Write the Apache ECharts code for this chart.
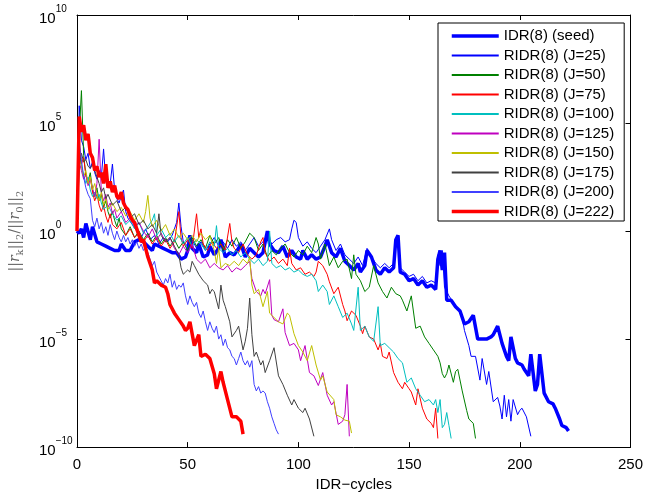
<!DOCTYPE html>
<html><head><meta charset="utf-8">
<script src="https://cdn.jsdelivr.net/npm/echarts@6/dist/echarts.min.js"></script>
<style>html,body{margin:0;padding:0;background:#fff}#c{width:646px;height:497px}</style>
</head><body><div id="c"></div>
<script>
// x: IDR cycle, values: log10 of relative residual norm
const xTicks = [0, 50, 100, 150, 200, 250];
const yTickExponents = [-10, -5, 0, 5, 10];
const seriesNames = ['IDR(8) (seed)', 'RIDR(8) (J=25)', 'RIDR(8) (J=50)', 'RIDR(8) (J=75)', 'RIDR(8) (J=100)',
  'RIDR(8) (J=125)', 'RIDR(8) (J=150)', 'RIDR(8) (J=175)', 'RIDR(8) (J=200)', 'RIDR(8) (J=222)'];

const seedIDR = [[0,0],[1,-0.1],[2,0.1],[3,-0.3],[4,0.35],[6,-0.4],[7,0.2],[9,-0.5],[11,-0.6],[13,-0.7],[15,-0.8],[17,-0.9],[19,-0.9],[20,-0.6],[22,-0.9],[24,-0.9],[26,-0.5],[28,-0.4],[30,-0.5],[32,-0.7],[34,-0.9],[35,-0.6],[37,-0.7],[39,-0.8],[41,-0.9],[43,-1.0],[45,-1.0],[47,-1.3],[49,-1.2],[50,-0.9],[51,-0.2],[52,-0.8],[54,-1.0],[55,-0.6],[57,-1.2],[59,-1.1],[60,-0.7],[62,-1.1],[64,-0.8],[65,-0.4],[67,-1.2],[69,-1.0],[71,-1.1],[73,-0.8],[74,-0.6],[76,-1.2],[78,-0.8],[80,-1.0],[82,-1.2],[84,-1.0],[85,-0.5],[86,0.0],[87,-0.6],[89,-0.9],[91,-1.0],[93,-0.7],[95,-1.2],[97,-0.9],[99,-1.2],[101,-1.3],[102,-0.9],[104,-1.3],[106,-1.1],[108,-1.3],[110,-1.2],[112,-0.7],[113,-0.4],[115,-1.0],[117,-1.2],[119,-0.8],[121,-1.4],[123,-1.6],[125,-1.8],[127,-1.5],[128,-1.9],[130,-1.6],[131,-0.9],[133,-1.2],[135,-1.8],[137,-2.0],[139,-1.7],[141,-1.9],[143,-1.7],[144,-0.4],[145,-0.2],[146,-1.9],[148,-2.0],[150,-2.3],[152,-2.2],[154,-2.5],[156,-2.3],[158,-2.6],[160,-2.5],[162,-2.7],[163,-1.3],[164,-0.9],[165,-1.8],[166,-1.0],[167,-3.2],[169,-3.2],[171,-3.5],[173,-3.7],[175,-4.3],[177,-4.2],[179,-3.9],[181,-5.0],[183,-5.0],[185,-5.0],[187,-4.9],[188,-4.8],[190,-4.4],[192,-5.2],[194,-5.8],[195,-6.0],[196,-4.9],[198,-5.9],[199,-6.1],[201,-6.2],[202,-6.4],[204,-6.7],[205,-5.7],[207,-7.4],[208,-7.1],[209,-5.7],[211,-7.5],[213,-7.9],[215,-8.0],[216,-8.2],[218,-8.7],[219,-9.0],[221,-9.1],[222,-9.25]];

const ridrJ25 = [[0,0],[1,5.8],[2,4.2],[3,3.9],[4,3.3],[5,3.6],[6,2.9],[7,3.2],[8,2.7],[9,2.4],[10,2.8],[11,2.5],[12,3.8],[13,2.3],[14,2.0],[15,2.2],[16,3.1],[17,1.9],[18,1.5],[19,1.3],[20,1.6],[21,1.9],[22,0.9],[23,0.6],[25,0.3],[27,0.0],[29,-0.3],[31,0.1],[33,-0.4],[35,-0.2],[37,-0.6],[39,-0.3],[41,-0.5],[43,-0.2],[45,0.4],[46,1.3],[47,0.2],[48,-0.5],[50,-0.7],[52,-0.4],[54,-0.8],[56,-0.5],[58,-0.9],[60,-0.6],[62,-0.3],[64,-0.7],[66,-0.5],[68,-0.8],[70,-0.4],[72,-0.7],[74,-0.5],[76,-0.9],[78,-0.6],[80,-0.3],[82,-0.7],[84,-0.5],[86,-0.2],[88,-0.6],[90,-0.4],[92,-0.3],[94,-0.5],[96,-0.4],[97,0.1],[98,0.5],[99,0.4],[100,-0.3],[102,-0.7],[104,-0.5],[106,-0.8],[108,-1.0],[110,-0.7],[112,-0.4],[114,0.1],[115,-0.4],[117,-0.9],[119,-0.6],[121,-1.1],[123,-1.3],[125,-1.5],[127,-1.2],[129,-1.6],[131,-0.8],[133,-1.2],[135,-1.5],[137,-1.7],[139,-1.5],[141,-1.7],[143,-1.5],[144,-0.6],[145,-0.4],[146,-1.7],[148,-1.9],[150,-2.1],[152,-2.0],[154,-2.3],[156,-2.1],[158,-2.4],[160,-2.3],[162,-2.4],[163,-1.1],[164,-1.6],[165,-0.9],[166,-2.6],[168,-3.0],[170,-3.3],[172,-3.6],[174,-4.0],[175,-4.6],[177,-5.3],[178,-5.8],[180,-5.8],[182,-6.9],[183,-5.9],[185,-7.1],[186,-6.5],[188,-7.9],[190,-7.7],[191,-8.1],[192,-8.7],[193,-7.6],[194,-8.6],[195,-7.8],[196,-8.8],[197,-7.8],[199,-8.5],[200,-8.3],[201,-8.2],[203,-8.6],[205,-9.5]];

const ridrJ50 = [[0,0],[1,4.5],[2,6.5],[3,3.5],[4,2.6],[5,2.3],[6,2.7],[7,1.9],[8,1.6],[9,2.0],[10,1.4],[11,1.7],[12,1.1],[13,1.4],[14,0.9],[15,0.6],[16,0.9],[17,0.5],[18,0.2],[19,0.6],[20,0.1],[22,-0.2],[24,0.2],[26,-0.3],[28,0.0],[30,-0.4],[32,-0.1],[34,-0.5],[36,-0.2],[38,-0.6],[40,-0.3],[42,-0.7],[44,-0.4],[46,-0.8],[48,-0.5],[50,-0.9],[52,-0.3],[54,-0.7],[56,-0.4],[58,-0.8],[60,-0.2],[62,-0.6],[64,-0.3],[66,-0.9],[68,-0.4],[70,-0.7],[72,-0.3],[74,-0.8],[76,-0.5],[78,-0.1],[80,-0.3],[82,-0.9],[84,-0.6],[86,-1.2],[88,-0.9],[90,-1.1],[92,-0.8],[94,-0.6],[96,-1.0],[98,-1.2],[100,-0.9],[102,-1.1],[104,-0.7],[106,-1.0],[108,-0.3],[109,-0.6],[110,-1.3],[112,-0.6],[114,-1.6],[116,-1.2],[118,-1.7],[120,-1.4],[122,-1.3],[124,-2.2],[125,-1.1],[126,-2.0],[128,-2.3],[130,-2.8],[132,-2.6],[134,-1.6],[136,-2.4],[138,-2.8],[140,-3.1],[142,-2.6],[144,-2.9],[146,-3.0],[147,-3.2],[149,-3.7],[151,-3.0],[153,-4.5],[155,-4.4],[157,-4.9],[159,-5.2],[161,-5.5],[163,-5.8],[164,-6.1],[165,-6.6],[166,-6.8],[167,-6.6],[168,-6.2],[170,-7.0],[171,-6.5],[172,-6.4],[174,-7.4],[176,-8.3],[177,-8.7],[179,-8.9],[180,-9.6]];

const ridrJ75 = [[0,0],[1,4.0],[2,3.1],[3,3.4],[4,2.6],[5,2.2],[6,2.5],[7,1.8],[8,1.4],[9,1.7],[10,1.2],[11,0.9],[12,1.2],[13,0.7],[14,0.4],[15,0.8],[16,0.3],[18,0.1],[20,0.4],[22,-0.2],[24,0.1],[26,-0.3],[28,-0.1],[30,-0.5],[32,-0.2],[34,-0.6],[36,-0.3],[38,-0.7],[40,-0.4],[42,-0.8],[44,-0.5],[46,0.9],[47,-0.3],[48,-0.7],[50,-0.4],[52,-0.8],[54,0.8],[55,-0.3],[56,0.1],[57,-0.6],[59,-0.9],[61,-0.5],[63,-0.8],[65,-0.6],[67,-0.9],[69,0.35],[70,-0.5],[71,-0.8],[73,-1.0],[75,-0.6],[77,-1.1],[79,-1.3],[81,-1.1],[83,-0.5],[84,-0.3],[85,-1.0],[87,-1.4],[89,-1.2],[91,-1.5],[93,-1.3],[95,-1.6],[96,-0.8],[97,-1.5],[99,-1.8],[101,-1.7],[103,-2.0],[105,-1.9],[107,-2.1],[108,-1.9],[109,-1.4],[111,-1.6],[113,-2.0],[114,-2.35],[116,-2.9],[118,-2.6],[120,-3.4],[121,-3.7],[122,-4.15],[124,-3.7],[126,-3.9],[128,-4.4],[129,-4.75],[130,-4.4],[132,-4.9],[134,-5.0],[136,-5.5],[137,-5.2],[138,-5.8],[140,-5.9],[141,-5.6],[143,-6.55],[145,-7.0],[147,-7.3],[148,-7.0],[150,-7.3],[151,-7.45],[153,-8.05],[154,-7.3],[156,-8.2],[158,-8.7],[160,-8.9],[161,-9.1],[162,-8.2],[163,-9.6]];

const ridrJ100 = [[0,0],[1,3.6],[2,3.0],[3,2.6],[4,2.2],[5,2.5],[6,1.9],[7,1.6],[8,1.8],[9,1.5],[10,1.7],[11,1.3],[12,1.0],[14,1.2],[16,0.8],[18,0.5],[20,0.7],[22,0.3],[24,0.5],[26,0.1],[28,0.4],[30,-0.1],[32,0.2],[34,0.5],[35,0.8],[36,-0.2],[38,0.1],[40,-0.3],[42,-0.1],[44,-0.5],[46,-0.2],[48,-0.6],[50,-0.3],[52,-0.7],[54,-0.4],[56,-0.6],[58,-0.9],[60,-0.5],[62,-0.7],[63,0.25],[64,-0.8],[66,-1.0],[68,-0.8],[70,-1.1],[72,-0.9],[74,-1.2],[76,-1.0],[78,-1.3],[80,-1.5],[82,-1.3],[84,-1.6],[86,-1.4],[87,0.0],[88,-1.5],[90,-1.7],[92,-1.6],[94,-1.8],[96,-1.7],[98,-1.9],[100,-1.8],[102,-2.0],[104,-2.1],[106,-2.0],[108,-2.3],[109,-2.8],[111,-2.5],[113,-2.8],[114,-3.4],[116,-3.0],[118,-3.5],[120,-4.0],[122,-3.8],[124,-4.3],[125,-4.6],[127,-2.6],[128,-4.6],[130,-4.4],[132,-4.9],[134,-5.1],[136,-3.5],[137,-5.3],[139,-5.2],[141,-5.4],[143,-5.6],[145,-5.9],[147,-6.1],[149,-7.0],[151,-6.8],[153,-7.3],[155,-7.6],[157,-7.9],[159,-7.8],[161,-8.05],[162,-7.8],[163,-8.4],[164,-7.8],[165,-9.1],[166,-8.95],[167,-8.4],[168,-9.0],[169,-9.6]];

const ridrJ125 = [[0,0],[1,3.2],[2,2.8],[3,2.4],[4,2.6],[5,2.1],[6,2.4],[7,2.0],[8,1.6],[9,2.2],[10,4.25],[11,1.8],[12,1.4],[13,1.7],[14,1.1],[15,1.3],[16,0.8],[17,1.0],[18,0.6],[20,0.9],[22,0.4],[24,0.6],[26,0.2],[28,0.4],[30,0.0],[32,-0.3],[34,0.1],[36,-0.4],[38,-0.1],[40,-0.5],[42,-0.3],[44,-0.8],[46,-1.1],[48,-0.7],[50,-1.0],[52,-0.6],[54,-1.3],[56,-1.5],[58,-1.3],[60,-1.7],[62,-1.5],[64,-1.7],[66,-1.8],[68,-1.6],[70,-1.9],[72,-1.7],[74,-1.8],[76,-1.6],[78,-1.4],[79,-2.2],[81,-2.8],[83,-3.0],[84,-2.7],[85,-2.9],[87,-2.25],[88,-3.9],[89,-4.1],[91,-4.2],[93,-3.6],[94,-4.7],[96,-5.3],[98,-5.2],[100,-5.5],[101,-6.0],[103,-5.3],[105,-6.55],[107,-6.7],[109,-7.15],[111,-6.55],[113,-7.6],[115,-8.05],[116,-7.9],[118,-8.95],[120,-8.8],[121,-8.5],[122,-7.1],[123,-9.5]];

const ridrJ150 = [[0,0],[1,3.4],[2,3.0],[3,2.5],[4,2.8],[5,2.2],[6,2.5],[7,1.9],[8,2.2],[9,1.7],[10,1.4],[11,1.8],[12,1.2],[13,1.5],[14,1.0],[16,1.3],[18,0.9],[20,1.1],[22,0.7],[24,0.9],[26,0.5],[28,0.8],[30,0.4],[31,0.9],[32,1.65],[33,0.6],[34,0.2],[36,0.5],[38,0.0],[40,0.3],[42,-0.2],[44,0.1],[46,-0.3],[48,-0.1],[50,-0.4],[52,-0.2],[54,-0.5],[56,-0.1],[58,-0.4],[60,-0.2],[62,-0.9],[63,-1.5],[64,-0.8],[65,-1.7],[67,-1.5],[69,-1.6],[71,-1.4],[73,-1.6],[75,-1.3],[77,-1.5],[78,-1.2],[79,-2.5],[80,-2.9],[82,-2.7],[84,-3.5],[86,-2.8],[87,-3.8],[89,-4.0],[91,-4.2],[93,-4.3],[95,-3.8],[96,-3.9],[98,-4.75],[100,-5.3],[102,-5.6],[104,-6.0],[106,-5.3],[108,-6.2],[110,-6.9],[111,-6.7],[113,-7.45],[116,-7.8],[117,-8.5],[119,-8.6],[121,-8.75],[123,-8.8],[124,-9.35]];

const ridrJ175 = [[0,0],[1,3.0],[2,3.6],[3,3.2],[4,3.3],[5,3.0],[6,2.9],[7,3.1],[8,2.8],[9,2.5],[10,2.2],[11,1.8],[12,2.0],[13,1.5],[14,1.7],[16,1.2],[18,1.4],[20,0.9],[22,1.1],[24,0.6],[26,0.8],[28,0.3],[30,0.5],[32,0.1],[34,0.3],[36,-0.1],[37,0.8],[38,-0.2],[40,-0.5],[42,-0.3],[44,-0.7],[46,-1.1],[47,-1.7],[48,-2.0],[49,-1.9],[50,-1.8],[51,-1.9],[52,-1.4],[53,-1.6],[54,-1.8],[55,-2.0],[57,-2.3],[59,-2.5],[60,-2.9],[61,-2.7],[62,-2.8],[64,-3.6],[65,-2.5],[66,-3.2],[67,-3.5],[69,-4.2],[70,-4.9],[72,-4.6],[73,-4.4],[75,-5.5],[76,-5.1],[77,-4.5],[78,-3.1],[79,-4.8],[80,-5.8],[81,-5.6],[82,-5.9],[83,-6.2],[84,-6.0],[85,-6.55],[87,-6.0],[89,-5.4],[91,-6.7],[93,-7.1],[95,-7.6],[97,-8.05],[98,-7.8],[100,-8.2],[102,-8.4],[103,-8.2],[105,-8.7],[107,-9.5]];

const ridrJ200 = [[0,0],[1,4.2],[2,3.3],[3,2.5],[4,2.0],[5,1.7],[6,1.5],[7,0.5],[8,0.2],[9,0.6],[10,0.1],[11,0.4],[12,-0.1],[13,0.2],[14,-0.2],[15,0.3],[16,-0.1],[17,-0.4],[18,0.0],[19,-0.3],[20,-0.5],[21,-0.2],[22,-0.5],[23,-0.3],[24,-0.6],[25,-0.4],[26,-0.7],[27,-0.5],[28,-0.8],[29,-0.6],[30,-0.9],[31,-0.7],[32,-1.0],[33,-1.3],[34,-1.6],[35,-1.4],[36,-1.9],[37,-2.1],[38,-2.3],[39,-2.5],[40,-2.2],[41,-2.4],[42,-2.0],[43,-2.6],[44,-2.3],[45,-2.7],[46,-2.5],[47,-2.6],[48,-2.4],[49,-3.0],[50,-3.4],[51,-3.0],[52,-3.3],[53,-3.5],[54,-3.3],[55,-3.8],[56,-4.0],[57,-3.7],[58,-4.2],[59,-4.6],[60,-4.2],[61,-4.5],[62,-4.7],[63,-4.4],[64,-5.0],[65,-4.8],[66,-5.3],[67,-5.0],[68,-5.4],[69,-5.5],[70,-5.8],[71,-5.9],[72,-6.2],[73,-5.9],[74,-5.6],[75,-6.0],[76,-6.2],[77,-6.0],[78,-6.3],[79,-6.0],[80,-7.1],[81,-7.4],[82,-7.2],[83,-7.5],[84,-7.4],[85,-7.5],[86,-7.9],[87,-8.2],[88,-8.6],[89,-8.9],[90,-9.2],[91,-9.4]];

const ridrJ222 = [[0,0],[1,5.3],[2,4.6],[3,4.9],[4,4.2],[5,4.5],[6,3.6],[7,3.4],[8,2.8],[9,3.0],[10,2.5],[11,2.7],[12,2.2],[13,3.1],[14,2.0],[15,2.3],[16,1.8],[17,2.1],[18,1.6],[19,1.5],[20,1.8],[21,1.3],[22,1.1],[23,1.0],[24,0.7],[25,0.5],[26,0.4],[27,0.1],[28,-0.2],[29,-0.5],[30,-0.4],[31,-0.8],[32,-1.2],[33,-1.5],[34,-1.8],[35,-2.4],[36,-2.3],[38,-2.5],[40,-2.6],[41,-2.9],[42,-3.4],[44,-3.8],[46,-4.1],[48,-4.4],[49,-4.6],[50,-4.5],[51,-4.2],[53,-5.3],[55,-4.8],[56,-5.8],[58,-5.7],[60,-5.9],[62,-6.6],[63,-7.3],[65,-6.5],[66,-7.0],[68,-7.8],[70,-8.6],[72,-8.6],[74,-8.8],[75,-9.4]];

const seriesData = [seedIDR, ridrJ25, ridrJ50, ridrJ75, ridrJ100, ridrJ125, ridrJ150, ridrJ175, ridrJ200, ridrJ222];
const seriesColors = ['#0000ff', '#0000ff', '#008000', '#ff0000', '#00bfbf', '#bf00bf', '#bfbf00', '#404040', '#4040ff', '#ff0000'];
const seriesWidths = [3.5, 1, 1, 1, 1, 1, 1, 1, 1, 3.5];

const FONT = 'Liberation Sans, Arial, Helvetica, sans-serif';
function supExp(v) {
  const e = Math.round(Math.log10(v));
  if (yTickExponents.indexOf(e) < 0) return '';
  return '{b|10}{s|' + (e < 0 ? '\u2212' + (-e) : String(e)) + '}';
}

const chart = echarts.init(document.getElementById('c'), null, { renderer: 'canvas' });
const axisLineStyle = { show: true, onZero: false, lineStyle: { color: '#000', width: 1 } };
chart.setOption({
  animation: false,
  backgroundColor: '#fff',
  grid: { left: 76, right: 14, top: 15, bottom: 41, containLabel: false },
  legend: {
    data: seriesNames.map((n, i) => seriesWidths[i] > 1 ? { name: n, lineStyle: { width: 3.5, color: seriesColors[i] } } : n),
    orient: 'vertical',
    left: 438, top: 23,
    padding: [5.5, 10, 2, 12],
    itemWidth: 47, itemHeight: 14, itemGap: 4.5,
    borderColor: '#000', borderWidth: 1, backgroundColor: '#fff',
    itemStyle: { opacity: 0 },
    textStyle: { fontFamily: FONT, fontSize: 15, color: '#000', lineHeight: 15 },
    selectedMode: false
  },
  xAxis: [{
    type: 'value', min: xTicks[0], max: xTicks[xTicks.length - 1], interval: 50,
    position: 'bottom', axisLine: axisLineStyle,
    axisTick: { inside: true, length: 5, lineStyle: { color: '#000' } },
    axisLabel: { fontFamily: FONT, fontSize: 15, color: '#000', margin: 10 },
    splitLine: { show: false },
    name: 'IDR\u2212cycles', nameLocation: 'middle', nameGap: 27,
    nameTextStyle: { fontFamily: FONT, fontSize: 15, color: '#000' }
  }, {
    type: 'value', min: xTicks[0], max: xTicks[xTicks.length - 1], interval: 50,
    position: 'top', axisLine: axisLineStyle,
    axisTick: { inside: true, length: 5, lineStyle: { color: '#000' } },
    axisLabel: { show: false }, splitLine: { show: false }
  }],
  yAxis: [{
    type: 'log', logBase: 10, min: 1e-10, max: 1e10, interval: 5,
    position: 'left', axisLine: axisLineStyle,
    axisTick: { inside: true, length: 5, lineStyle: { color: '#000' } },
    minorTick: { show: false },
    splitLine: { show: false },
    axisLabel: {
      formatter: supExp, align: 'left', margin: 38,
      rich: {
        b: { fontFamily: FONT, fontSize: 15, color: '#000', verticalAlign: 'bottom', lineHeight: 22 },
        s: { fontFamily: FONT, fontSize: 10, color: '#000', verticalAlign: 'top', lineHeight: 22 }
      }
    },
    name: '||{i|r}{sb|k}||{sb|2}/||{i|r}{sb|0}||{sb|2}',
    nameLocation: 'middle', nameRotate: 90, nameGap: 52,
    nameTextStyle: {
      fontFamily: 'DejaVu Serif, Liberation Serif, serif', fontSize: 14, color: '#666',
      rich: {
        i: { fontFamily: 'DejaVu Serif, serif', fontStyle: 'italic', fontSize: 14, color: '#666', verticalAlign: 'middle', lineHeight: 20 },
        sb: { fontFamily: 'DejaVu Serif, serif', fontSize: 10, color: '#666', verticalAlign: 'bottom', lineHeight: 20 }
      }
    }
  }, {
    type: 'log', logBase: 10, min: 1e-10, max: 1e10, interval: 5,
    position: 'right', axisLine: axisLineStyle,
    axisTick: { inside: true, length: 5, lineStyle: { color: '#000' } },
    axisLabel: { show: false }, splitLine: { show: false }
  }],
  series: seriesNames.map((name, i) => ({
    name: name, type: 'line', xAxisIndex: 0, yAxisIndex: 0,
    symbol: 'none', showSymbol: false, smooth: false,
    data: seriesData[i].map(p => [p[0], Math.pow(10, p[1])]),
    lineStyle: { color: seriesColors[i], width: seriesWidths[i] },
    itemStyle: { color: seriesColors[i] },
    emphasis: { disabled: true },
    z: 2 + i
  }))
});
</script></body></html>
